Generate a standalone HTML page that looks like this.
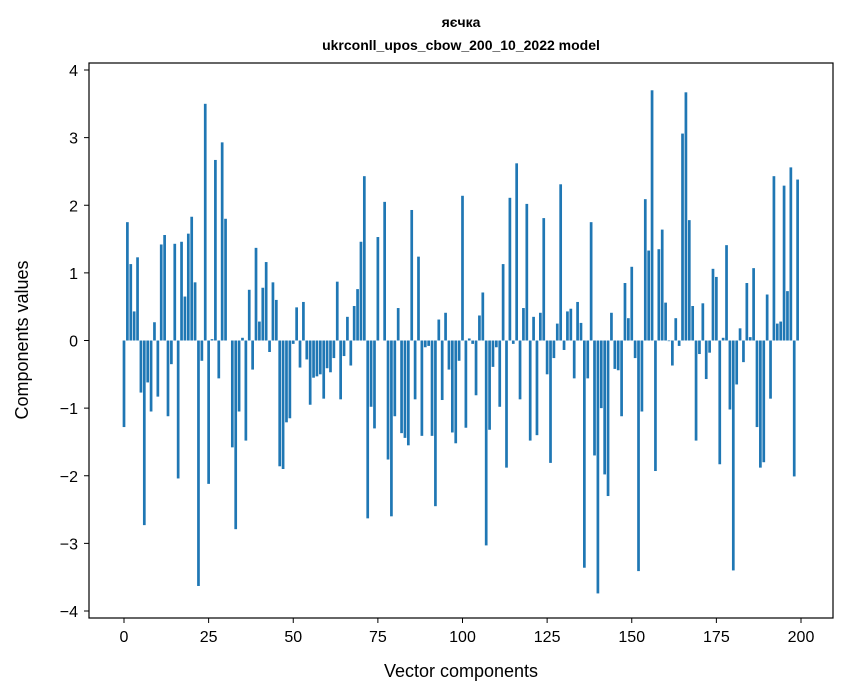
<!DOCTYPE html>
<html><head><meta charset="utf-8"><style>
html,body{margin:0;padding:0;background:#fff;}
svg{display:block;font-family:"Liberation Sans","DejaVu Sans",sans-serif;}
</style></head><body>
<svg id="chart" width="847" height="696" viewBox="0 0 847 696" xmlns="http://www.w3.org/2000/svg">
<rect width="847" height="696" fill="#fff"/>
<text x="461" y="27" text-anchor="middle" font-size="14" font-weight="bold">яєчка</text>
<text x="461" y="50" text-anchor="middle" font-size="14" font-weight="bold">ukrconll_upos_cbow_200_10_2022 model</text>
<g id="bars"></g>
<g id="axes"></g>
<rect x="89" y="63" width="744" height="555" fill="none" stroke="#000" stroke-width="1.2"/>
<text x="461" y="677" text-anchor="middle" font-size="18">Vector components</text>
<text x="0" y="0" transform="translate(28,340) rotate(-90)" text-anchor="middle" font-size="18">Components values</text>
</svg>
<script>
const values = [-1.28,1.75,1.13,0.43,1.23,-0.77,-2.73,-0.62,-1.05,0.27,-0.83,1.42,1.56,-1.12,-0.35,1.43,-2.04,1.46,0.65,1.58,
1.83,0.86,-3.63,-0.30,3.50,-2.12,0.02,2.67,-0.56,2.93,1.80,0,-1.58,-2.79,-1.05,0.04,-1.48,0.75,-0.43,1.37,
0.28,0.78,1.16,-0.17,0.86,0.60,-1.86,-1.90,-1.21,-1.15,-0.05,0.49,-0.40,0.57,-0.28,-0.95,-0.55,-0.53,-0.50,-0.86,
-0.41,-0.47,-0.26,0.87,-0.87,-0.23,0.35,-0.37,0.51,0.76,1.46,2.43,-2.63,-0.98,-1.30,1.53,0,2.05,-1.76,-2.60,
-1.12,0.48,-1.37,-1.44,-1.55,1.93,-0.87,1.24,-1.41,-0.10,-0.08,-1.41,-2.45,0.31,-0.88,0.41,-0.43,-1.36,-1.52,-0.30,
2.14,-1.29,0.03,-0.05,-0.81,0.37,0.71,-3.03,-1.32,-0.39,-0.10,-0.98,1.13,-1.88,2.11,-0.05,2.62,-0.87,0.48,2.02,
-1.48,0.35,-1.40,0.41,1.81,-0.50,-1.81,-0.26,0.25,2.31,-0.14,0.43,0.47,-0.56,0.57,0.26,-3.36,-0.56,1.75,-1.70,
-3.74,-1.00,-1.98,-2.30,0.41,-0.42,-0.44,-1.12,0.85,0.33,1.09,-0.26,-3.41,-1.05,2.09,1.33,3.70,-1.93,1.35,1.64,
0.56,-0.01,-0.37,0.33,-0.08,3.06,3.67,1.78,0.51,-1.48,-0.20,0.55,-0.57,-0.18,1.06,0.94,-1.83,0.04,1.41,-1.02,
-3.40,-0.65,0.18,-0.32,0.85,0.05,1.07,-1.28,-1.88,-1.80,0.68,-0.86,2.43,0.25,0.28,2.29,0.73,2.56,-2.01,2.38];
const xTicks = [0,25,50,75,100,125,150,175,200];
const yTicks = [-4,-3,-2,-1,0,1,2,3,4];
const NS = "http://www.w3.org/2000/svg";
function xs(i){return 124 + i*(801-124)/200;}
function ys(v){return 340.5 - v*(611-70)/8;}
const bars = document.getElementById('bars');
values.forEach((v,i)=>{
  const r = document.createElementNS(NS,'rect');
  
  
  const w = 0.8*(801-124)/200;
  r.setAttribute('x', xs(i)-w/2);
  r.setAttribute('width', w);
  r.setAttribute('y', Math.min(ys(v),ys(0)));
  r.setAttribute('height', Math.abs(ys(v)-ys(0)));
  r.setAttribute('fill','#1f77b4');
  bars.appendChild(r);
});
const axes = document.getElementById('axes');
xTicks.forEach(t=>{
  const l = document.createElementNS(NS,'line');
  
  
  l.setAttribute('x1',xs(t));l.setAttribute('x2',xs(t));
  l.setAttribute('y1',618);l.setAttribute('y2',623);
  l.setAttribute('stroke','#000');
  axes.appendChild(l);
  const tx = document.createElementNS(NS,'text');
  
  
  tx.setAttribute('x',xs(t));tx.setAttribute('y',642);
  tx.setAttribute('text-anchor','middle');tx.setAttribute('font-size','16');
  tx.textContent = t;
  axes.appendChild(tx);
});
yTicks.forEach(t=>{
  const l = document.createElementNS(NS,'line');
  
  
  l.setAttribute('x1',84);l.setAttribute('x2',89);
  l.setAttribute('y1',ys(t));l.setAttribute('y2',ys(t));
  l.setAttribute('stroke','#000');
  axes.appendChild(l);
  const tx = document.createElementNS(NS,'text');
  
  
  tx.setAttribute('x',78);tx.setAttribute('y',ys(t)+6);
  tx.setAttribute('text-anchor','end');tx.setAttribute('font-size','16');
  tx.textContent = t<0 ? '\u2212'+Math.abs(t) : t;
  axes.appendChild(tx);
});
</script>
</body></html>
